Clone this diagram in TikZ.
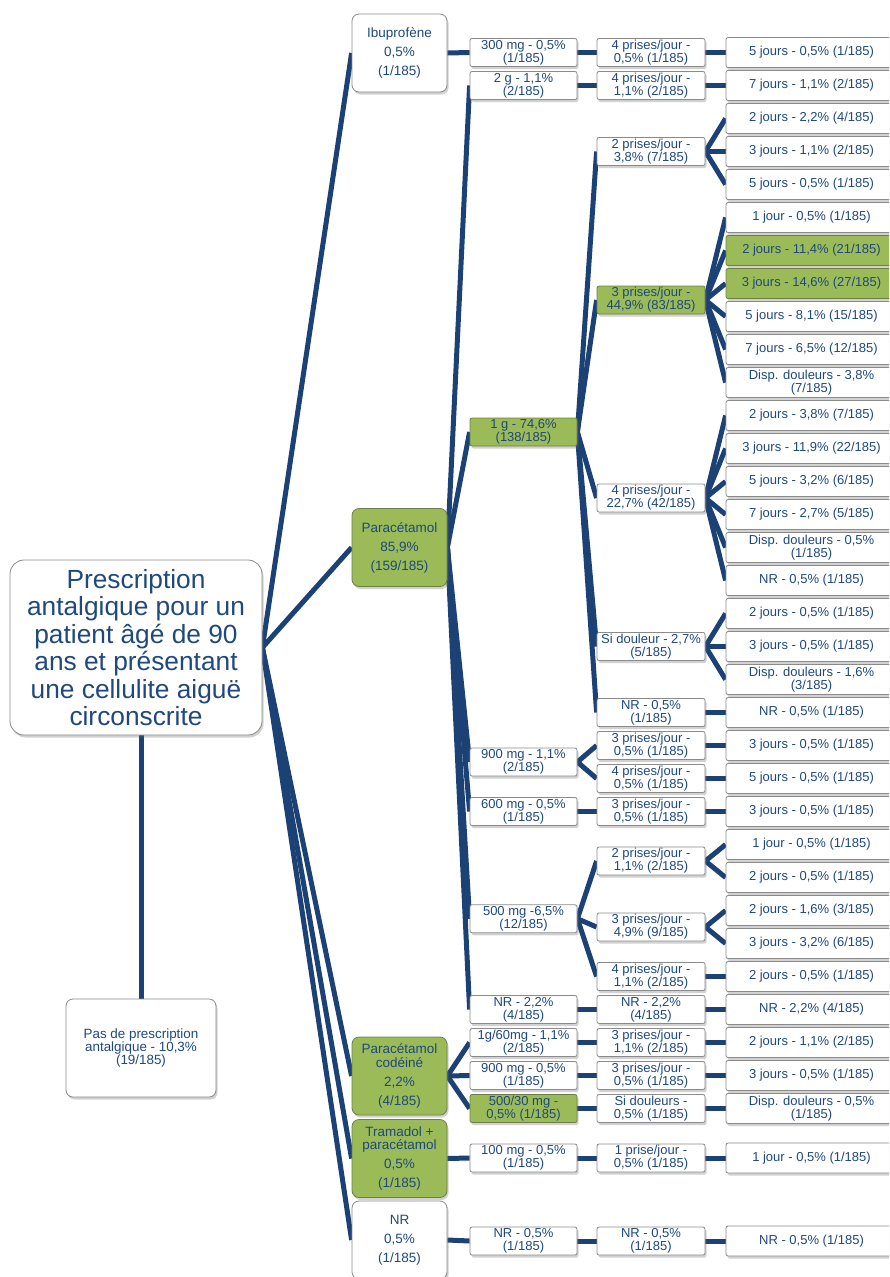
\documentclass[tikz,border=0pt]{standalone}
\usepackage{fontspec}
\setmainfont{Liberation Sans}
\usetikzlibrary{backgrounds,shadows}
\definecolor{txt}{HTML}{1F497D}
\definecolor{lnk}{HTML}{1C4175}
\definecolor{pgreen}{HTML}{9BBB59}
\definecolor{gbord}{HTML}{6E7F45}
\definecolor{bord}{HTML}{8A8A8A}
\begin{document}
\begin{tikzpicture}[x=1pt,y=-1pt,
  box/.style={draw=bord, line width=0.8pt, fill=white, text=txt, align=center, inner sep=0pt,
    drop shadow={shadow xshift=1.5pt, shadow yshift=-2.5pt, opacity=0.3, fill=black!60}},
  rootbox/.style={box, rounded corners=14pt, minimum width=252pt, minimum height=175pt, font=\fontsize{26.3}{27.5}\selectfont},
  catbox/.style={box, rounded corners=7pt, minimum width=95pt, minimum height=78pt, font=\fontsize{13.5}{19}\selectfont},
  nobox/.style={box, rounded corners=7pt, minimum width=150pt, minimum height=98pt, font=\fontsize{13.4}{13}\selectfont},
  dosebox/.style={box, rounded corners=2pt, minimum width=107pt, minimum height=28pt, font=\fontsize{13}{13}\selectfont},
  freqbox/.style={dosebox, minimum width=108pt},
  durbox/.style={box, rounded corners=2pt, minimum width=171pt, minimum height=30pt, font=\fontsize{13}{13}\selectfont},
  hl/.style={fill=pgreen, draw=gbord},
  conn/.style={draw=lnk, line width=5pt}
]
\useasboundingbox (0,0) rectangle (889,1277);
\clip (0,0) rectangle (889,1277);

% root
\node[rootbox] (root) at (136,647.5) {Prescription\\antalgique pour un\\patient âgé de 90\\ans et présentant\\une cellulite aiguë\\circonscrite};
\node[nobox] (pas) at (141,1048) {Pas de prescription\\antalgique - 10,3\%\\(19/185)};

% column 2
\node[catbox] (ibu) at (399.5,53) {Ibuprofène\\0,5\%\\(1/185)};
\node[catbox,hl] (para) at (399.5,547.5) {Paracétamol\\85,9\%\\(159/185)};
\node[catbox,hl] (codo) at (399.5,1076) {Paracétamol\\[-5.5pt]codéiné\\2,2\%\\(4/185)};
\node[catbox,hl] (tram) at (399.5,1158.5) {Tramadol +\\[-5.5pt]paracétamol\\0,5\%\\(1/185)};
\node[catbox] (nrc) at (399.5,1240) {NR\\0,5\%\\(1/185)};

% column 3
\node[dosebox] (d1) at (523.5,52.5) {300 mg - 0,5\%\\(1/185)};
\node[dosebox] (d2) at (523.5,85.5) {2 g - 1,1\%\\(2/185)};
\node[dosebox,hl] (d3) at (523.5,432) {1 g - 74,6\%\\(138/185)};
\node[dosebox] (d4) at (523.5,762) {900 mg - 1,1\%\\(2/185)};
\node[dosebox] (d5) at (523.5,811.5) {600 mg - 0,5\%\\(1/185)};
\node[dosebox] (d6) at (523.5,918.75) {500 mg -6,5\%\\(12/185)};
\node[dosebox] (d7) at (523.5,1009.5) {NR - 2,2\%\\(4/185)};
\node[dosebox] (d8) at (523.5,1042.5) {1g/60mg - 1,1\%\\(2/185)};
\node[dosebox] (d9) at (523.5,1075.5) {900 mg - 0,5\%\\(1/185)};
\node[dosebox,hl] (d10) at (523.5,1108.5) {500/30 mg -\\0,5\% (1/185)};
\node[dosebox] (d11) at (523.5,1158) {100 mg - 0,5\%\\(1/185)};
\node[dosebox] (d12) at (523.5,1241) {NR - 0,5\%\\(1/185)};

% column 4
\node[freqbox] (f1) at (651,52.5) {4 prises/jour -\\0,5\% (1/185)};
\node[freqbox] (f2) at (651,85.5) {4 prises/jour -\\1,1\% (2/185)};
\node[freqbox] (f3) at (651,151.5) {2 prises/jour -\\3,8\% (7/185)};
\node[freqbox,hl] (f4) at (651,300) {3 prises/jour -\\44,9\% (83/185)};
\node[freqbox] (f5) at (651,498) {4 prises/jour -\\22,7\% (42/185)};
\node[freqbox] (f6) at (651,646.5) {Si douleur - 2,7\%\\(5/185)};
\node[freqbox] (f7) at (651,712.5) {NR - 0,5\%\\(1/185)};
\node[freqbox] (f8) at (651,745.5) {3 prises/jour -\\0,5\% (1/185)};
\node[freqbox] (f9) at (651,778.5) {4 prises/jour -\\0,5\% (1/185)};
\node[freqbox] (f10) at (651,811.5) {3 prises/jour -\\0,5\% (1/185)};
\node[freqbox] (f11) at (651,861) {2 prises/jour -\\1,1\% (2/185)};
\node[freqbox] (f12) at (651,927) {3 prises/jour -\\4,9\% (9/185)};
\node[freqbox] (f13) at (651,976.5) {4 prises/jour -\\1,1\% (2/185)};
\node[freqbox] (f14) at (651,1009.5) {NR - 2,2\%\\(4/185)};
\node[freqbox] (f15) at (651,1042.5) {3 prises/jour -\\1,1\% (2/185)};
\node[freqbox] (f16) at (651,1075.5) {3 prises/jour -\\0,5\% (1/185)};
\node[freqbox] (f17) at (651,1108.5) {Si douleurs -\\0,5\% (1/185)};
\node[freqbox] (f18) at (651,1158) {1 prise/jour -\\0,5\% (1/185)};
\node[freqbox] (f19) at (651,1241) {NR - 0,5\%\\(1/185)};

% column 5
\node[durbox] (L1) at (811.5,52.5) {5 jours - 0,5\% (1/185)};
\node[durbox] (L2) at (811.5,85.5) {7 jours - 1,1\% (2/185)};
\node[durbox] (L3) at (811.5,118.5) {2 jours - 2,2\% (4/185)};
\node[durbox] (L4) at (811.5,151.5) {3 jours - 1,1\% (2/185)};
\node[durbox] (L5) at (811.5,184.5) {5 jours - 0,5\% (1/185)};
\node[durbox] (L6) at (811.5,217.5) {1 jour - 0,5\% (1/185)};
\node[durbox,hl] (L7) at (811.5,250.5) {2 jours - 11,4\% (21/185)};
\node[durbox,hl] (L8) at (811.5,283.5) {3 jours - 14,6\% (27/185)};
\node[durbox] (L9) at (811.5,316.5) {5 jours - 8,1\% (15/185)};
\node[durbox] (L10) at (811.5,349.5) {7 jours - 6,5\% (12/185)};
\node[durbox] (L11) at (811.5,382.5) {Disp. douleurs - 3,8\%\\(7/185)};
\node[durbox] (L12) at (811.5,415.5) {2 jours - 3,8\% (7/185)};
\node[durbox] (L13) at (811.5,448.5) {3 jours - 11,9\% (22/185)};
\node[durbox] (L14) at (811.5,481.5) {5 jours - 3,2\% (6/185)};
\node[durbox] (L15) at (811.5,514.5) {7 jours - 2,7\% (5/185)};
\node[durbox] (L16) at (811.5,547.5) {Disp. douleurs - 0,5\%\\(1/185)};
\node[durbox] (L17) at (811.5,580.5) {NR - 0,5\% (1/185)};
\node[durbox] (L18) at (811.5,613.5) {2 jours - 0,5\% (1/185)};
\node[durbox] (L19) at (811.5,646.5) {3 jours - 0,5\% (1/185)};
\node[durbox] (L20) at (811.5,679.5) {Disp. douleurs - 1,6\%\\(3/185)};
\node[durbox] (L21) at (811.5,712.5) {NR - 0,5\% (1/185)};
\node[durbox] (L22) at (811.5,745.5) {3 jours - 0,5\% (1/185)};
\node[durbox] (L23) at (811.5,778.5) {5 jours - 0,5\% (1/185)};
\node[durbox] (L24) at (811.5,811.5) {3 jours - 0,5\% (1/185)};
\node[durbox] (L25) at (811.5,844.5) {1 jour - 0,5\% (1/185)};
\node[durbox] (L26) at (811.5,877.5) {2 jours - 0,5\% (1/185)};
\node[durbox] (L27) at (811.5,910.5) {2 jours - 1,6\% (3/185)};
\node[durbox] (L28) at (811.5,943.5) {3 jours - 3,2\% (6/185)};
\node[durbox] (L29) at (811.5,976.5) {2 jours - 0,5\% (1/185)};
\node[durbox] (L30) at (811.5,1009.5) {NR - 2,2\% (4/185)};
\node[durbox] (L31) at (811.5,1042.5) {2 jours - 1,1\% (2/185)};
\node[durbox] (L32) at (811.5,1075.5) {3 jours - 0,5\% (1/185)};
\node[durbox] (L33) at (811.5,1108.5) {Disp. douleurs - 0,5\%\\(1/185)};
\node[durbox] (L34) at (811.5,1158) {1 jour - 0,5\% (1/185)};
\node[durbox] (L35) at (811.5,1241) {NR - 0,5\% (1/185)};

\begin{scope}[on background layer]
  \draw[conn] (pas.north) -- (pas.north |- root.south);
  \foreach \a/\b in {root/ibu, root/para, root/codo, root/tram, root/nrc,
      ibu/d1, para/d2, para/d3, para/d4, para/d5, para/d6, para/d7,
      codo/d8, codo/d9, codo/d10, tram/d11, nrc/d12,
      d1/f1, d2/f2, d3/f3, d3/f4, d3/f5, d3/f6, d3/f7, d4/f8, d4/f9, d5/f10,
      d6/f11, d6/f12, d6/f13, d7/f14, d8/f15, d9/f16, d10/f17, d11/f18, d12/f19,
      f1/L1, f2/L2, f3/L3, f3/L4, f3/L5, f4/L6, f4/L7, f4/L8, f4/L9, f4/L10, f4/L11,
      f5/L12, f5/L13, f5/L14, f5/L15, f5/L16, f5/L17, f6/L18, f6/L19, f6/L20,
      f7/L21, f8/L22, f9/L23, f10/L24, f11/L25, f11/L26, f12/L27, f12/L28,
      f13/L29, f14/L30, f15/L31, f16/L32, f17/L33, f18/L34, f19/L35}
    \draw[conn] (\a.east) -- (\b.west);
\end{scope}
\end{tikzpicture}
\end{document}
